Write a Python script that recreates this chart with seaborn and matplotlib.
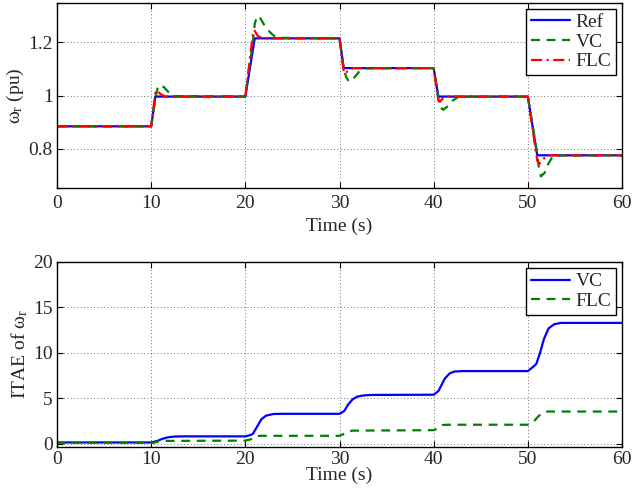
import matplotlib
matplotlib.use("Agg")
import matplotlib.pyplot as plt
import seaborn as sns

# speed response (pu), vertices
ref_t = [0, 10, 10.45, 20, 21, 30, 30.45, 40, 40.5, 50, 51, 60]
ref_w = [0.884, 0.884, 0.996, 0.996, 1.215, 1.215, 1.103, 1.103, 0.996, 0.996, 0.775, 0.775]

vc_t = [0, 10, 10.45, 10.7, 10.95, 11.4, 11.9, 12.4, 20, 20.8, 21.0, 21.25, 21.6, 22.1, 22.7, 23.3,
        30, 30.45, 30.7, 31.0, 31.5, 32.1, 32.7, 40, 40.5, 40.75, 41.0, 41.5, 42.0, 42.6,
        50, 51.0, 51.2, 51.4, 51.8, 52.2, 52.7, 60]
vc_w = [0.884, 0.884, 0.99, 1.03, 1.04, 1.03, 1.01, 0.998, 0.996, 1.2, 1.27, 1.299, 1.29, 1.26, 1.235, 1.217,
        1.215, 1.1, 1.07, 1.052, 1.065, 1.09, 1.102, 1.103, 0.985, 0.955, 0.946, 0.96, 0.98, 0.995,
        0.996, 0.78, 0.72, 0.696, 0.71, 0.745, 0.774, 0.775]

flc_t = [0, 10, 10.45, 10.6, 11.0, 11.5, 20, 20.8, 20.95, 21.3, 21.8, 30, 30.45, 30.6, 31.0, 31.5,
         40, 40.5, 40.65, 41.0, 41.5, 50, 51.0, 51.2, 51.6, 52.1, 60]
flc_w = [0.884, 0.884, 1.01, 1.02, 1.005, 0.996, 0.996, 1.23, 1.246, 1.225, 1.215, 1.215, 1.09, 1.082, 1.097, 1.103,
         1.103, 0.982, 0.976, 0.99, 0.996, 0.996, 0.755, 0.742, 0.76, 0.775, 0.775]

# ITAE of speed
itae_vc_t = [0, 10, 10.6, 11.2, 11.8, 12.5, 13.5, 20, 20.5, 20.8, 21.2, 21.7, 22.2, 23.0, 24.0,
             30, 30.5, 30.9, 31.4, 31.9, 32.6, 33.5, 40, 40.5, 40.8, 41.2, 41.7, 42.2, 43.0,
             50, 50.6, 50.9, 51.3, 51.7, 52.2, 52.8, 53.5, 60]
itae_vc = [0.15, 0.15, 0.3, 0.55, 0.72, 0.8, 0.82, 0.82, 0.95, 1.1, 1.8, 2.7, 3.1, 3.28, 3.3,
           3.3, 3.6, 4.3, 4.9, 5.2, 5.33, 5.38, 5.4, 5.8, 6.4, 7.2, 7.75, 7.95, 8.0,
           8.0, 8.5, 8.8, 10.0, 11.5, 12.7, 13.15, 13.3, 13.3]

itae_flc_t = [0, 10.3, 10.8, 11.3, 20, 20.6, 21.0, 21.6, 30, 30.5, 30.9, 31.4, 40, 40.6, 40.9, 41.4,
              50, 50.6, 51.0, 51.4, 51.9, 60]
itae_flc = [0.12, 0.12, 0.28, 0.32, 0.35, 0.5, 0.8, 0.88, 0.88, 1.1, 1.35, 1.45, 1.5, 1.8, 2.05, 2.1,
            2.1, 2.4, 2.9, 3.3, 3.55, 3.55]

sns.set_theme(style="ticks")
plt.rcParams["font.family"] = ["Liberation Serif", "DejaVu Serif"]
plt.rcParams["mathtext.fontset"] = "stix"
plt.rcParams["xtick.direction"] = "in"
plt.rcParams["ytick.direction"] = "in"

FS = 14

fig = plt.figure(figsize=(6.34, 4.88), dpi=100)
ax1 = fig.add_axes([57 / 634, 1 - 188 / 488, 565 / 634, 185 / 488])
ax2 = fig.add_axes([57 / 634, 1 - 447 / 488, 565 / 634, 185 / 488])

sns.lineplot(x=ref_t, y=ref_w, ax=ax1, color="#0000ff", lw=1.6, label="Ref")
sns.lineplot(x=vc_t, y=vc_w, ax=ax1, color="#008000", lw=1.6, linestyle=(0, (4, 3)), label="VC")
sns.lineplot(x=flc_t, y=flc_w, ax=ax1, color="#ff0000", lw=1.6, linestyle=(0, (5, 2, 1, 2)), label="FLC")
ax1.set_ylim(0.652, 1.348)
ax1.set_yticks([0.8, 1.0, 1.2])
ax1.set_yticklabels(["0.8", "1", "1.2"])
ax1.set_ylabel(r"$\mathregular{\omega_r}$ (pu)", fontsize=FS, labelpad=2)

sns.lineplot(x=itae_vc_t, y=itae_vc, ax=ax2, color="#0000ff", lw=1.6, label="VC")
sns.lineplot(x=itae_flc_t, y=itae_flc, ax=ax2, color="#008000", lw=1.6, linestyle=(0, (4, 3)), label="FLC")
ax2.set_ylim(-0.35, 20)
ax2.set_yticks([0, 5, 10, 15, 20])
ax2.set_ylabel(r"ITAE of $\mathregular{\omega_r}$", fontsize=FS, labelpad=2)

for ax in (ax1, ax2):
    ax.set_xlim(0, 60)
    ax.set_xticks(range(0, 61, 10))
    ax.grid(True, color="#444444", linestyle=(0, (1, 3)), lw=0.6)
    ax.tick_params(labelsize=FS, top=True, right=True, length=4, width=0.8,
                   color="black", pad=3)
    for s in ax.spines.values():
        s.set_color("black")
        s.set_linewidth(1.0)
    leg = ax.legend(loc="upper right", fontsize=FS, frameon=True, fancybox=False,
                    handlelength=2.0, borderaxespad=0.3, labelspacing=0.1,
                    handletextpad=0.3, borderpad=0.25)
    leg.get_frame().set_edgecolor("black")
    leg.get_frame().set_linewidth(1.0)
    leg.get_frame().set_alpha(1)

# top axis has room below it; the bottom one sits near the figure edge
ax1.tick_params(axis="x", pad=5)
ax1.set_xlabel("Time (s)", fontsize=FS, labelpad=4)
ax2.tick_params(axis="x", pad=3)
ax2.set_xlabel("Time (s)", fontsize=FS, labelpad=-1)

fig.savefig("out.png", dpi=100)
